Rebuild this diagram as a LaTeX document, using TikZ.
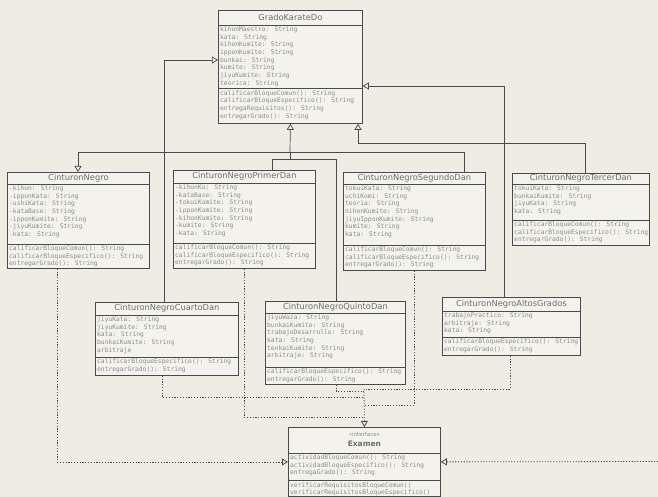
\documentclass[tikz,border=0pt]{standalone}
\usepackage{fontspec}
\setmainfont{DejaVu Sans}
\newfontfamily\listfont{DejaVu Sans Mono}
\usetikzlibrary{arrows.meta}
\definecolor{paper}{HTML}{EEECE3}
\definecolor{boxbg}{HTML}{F3F2EC}
\definecolor{ink}{HTML}{4A4A48}
\definecolor{txt}{HTML}{8C8C88}
\definecolor{ttl}{HTML}{6E6E6A}
\tikzset{
  cbox/.style={draw=ink, line width=0.8pt, fill=boxbg, inner sep=0pt, anchor=north west},
  csep/.style={draw=ink, line width=0.7pt},
  ctitle/.style={font=\fontsize{8.3}{9}\selectfont, text=ttl, inner sep=0pt},
  clist/.style={font=\listfont\fontsize{6.3}{7.7}\selectfont, text=txt, align=left, inner sep=0pt, anchor=north west},
  inh/.style={draw=ink, line width=0.7pt, -{Triangle[open,length=6pt,width=7pt]}},
  conn/.style={draw=ink, line width=0.7pt},
  real/.style={draw=ink, line width=0.8pt, dash pattern=on 1.2pt off 1.6pt, -{Triangle[open,length=6pt,width=7pt]}},
  realline/.style={draw=ink, line width=0.8pt, dash pattern=on 1.2pt off 1.6pt},
}
% #1 name, #2 x, #3 y, #4 w, #5 h, #6 header height, #7 attr sep offset, #8 title
\newcommand\umlclass[8]{%
  \node[cbox, minimum width=#4pt, minimum height=#5pt] (#1) at (#2,#3) {};
  \draw[csep] ([yshift=-#6pt]#1.north west) -- ([yshift=-#6pt]#1.north east);
  \draw[csep] ([yshift=-#7pt]#1.north west) -- ([yshift=-#7pt]#1.north east);
  \node[ctitle] (#1-t) at ([yshift=-0.5*#6pt]#1.north) {#8};
}
% #1 name, #2 suffix, #3 y offset, #4 text
\newcommand\umltext[4]{\node[clist] (#1-#2) at ([xshift=2pt,yshift=-#3pt]#1.north west) {#4};}
\begin{document}
\begin{tikzpicture}[x=1pt,y=-1pt]
\useasboundingbox (0,0) rectangle (658,497);
\fill[paper] (0,0) rectangle (658,497);

% GradoKarateDo
\umlclass{grado}{218}{10}{144}{113}{15}{78}{GradoKarateDo}
\umltext{grado}{a}{16.5}{kihonMaestro: String\\kata: String\\kihonKumite: String\\ipponKumite: String\\bunkai: String\\kumite: String\\jiyuKumite: String\\teorica: String}
\umltext{grado}{m}{80}{calificarBloqueComun(): String\\calificarBloqueEspecifico(): String\\entregaRequisitos(): String\\entregarGrado(): String}

% CinturonNegro
\umlclass{cn}{7}{172}{142}{96}{12}{72}{CinturonNegro}
\umltext{cn}{a}{13.5}{-kihon: String\\-ipponKata: String\\-ushiKata: String\\-kataBase: String\\-ipponKumite: String\\-jiyuKumite: String\\-kata: String}
\umltext{cn}{m}{73.5}{calificarBloqueComun(): String\\calificarBloqueEspecifico(): String\\entregarGrado(): String}

% CinturonNegroPrimerDan
\umlclass{pri}{173}{170}{142}{98}{13}{73}{CinturonNegroPrimerDan}
\umltext{pri}{a}{14.5}{-kihonKu: String\\-kataBase: String\\-tokuiKumite: String\\-ipponKumite: String\\-kihonKumite: String\\-kumite: String\\-kata: String}
\umltext{pri}{m}{74.5}{calificarBloqueComun(): String\\calificarBloqueEspecifico(): String\\entregarGrado(): String}

% CinturonNegroSegundoDan
\umlclass{seg}{343}{172}{142}{98}{12}{73}{CinturonNegroSegundoDan}
\umltext{seg}{a}{13.5}{tokuiKata: String\\uchiKomi: String\\teoria: String\\nihonKumite: String\\jiyuIpponKumite: String\\kumite: String\\kata: String}
\umltext{seg}{m}{74.5}{calificarBloqueComun(): String\\calificarBloqueEspecifico(): String\\entregarGrado(): String}

% CinturonNegroTercerDan
\umlclass{ter}{512}{173}{137}{72}{11}{47}{CinturonNegroTercerDan}
\umltext{ter}{a}{12.5}{tokuiKata: String\\bunkaiKumite: String\\jiyuKata: String\\kata: String}
\umltext{ter}{m}{48.5}{calificarBloqueComun(): String\\calificarBloqueEspecifico(): String\\entregarGrado(): String}

% CinturonNegroCuartoDan
\umlclass{cua}{95}{302}{143}{73}{13}{55}{CinturonNegroCuartoDan}
\umltext{cua}{a}{14.5}{jiyuKata: String\\jiyuKumite: String\\kata: String\\bunkaiKumite: String\\arbitraje}
\umltext{cua}{m}{56.5}{calificarBloqueEspecifico(): String\\entregarGrado(): String}

% CinturonNegroQuintoDan
\umlclass{qui}{265}{301}{140}{83}{12}{66}{CinturonNegroQuintoDan}
\umltext{qui}{a}{13.5}{jiyuWaza: String\\bunkaiKumite: String\\trabajoDesarrollo: String\\kata: String\\tenkaiKumite: String\\arbitraje: String}
\umltext{qui}{m}{67.5}{calificarBloqueEspecifico(): String\\entregarGrado(): String}

% CinturonNegroAltosGrados
\umlclass{alt}{442}{297}{138}{58}{14}{40}{CinturonNegroAltosGrados}
\umltext{alt}{a}{15.5}{trabajoPractico: String\\arbitraje: String\\kata: String}
\umltext{alt}{m}{41.5}{calificarBloqueEspecifico(): String\\entregarGrado(): String}

% Examen
\umlclass{exa}{288}{427}{152}{69}{26}{53}{}
\node[font=\fontsize{5.5}{6}\selectfont, text=txt, inner sep=0pt] (exa-s) at ([yshift=-7pt]exa.north) {«interface»};
\node[font=\bfseries\fontsize{7.5}{8}\selectfont, text=ttl, inner sep=0pt] (exa-n) at ([yshift=-17pt]exa.north) {Examen};
\umltext{exa}{a}{27.5}{actividadBloqueComun(): String\\actividadBloqueEspecifico(): String\\entregaGrado(): String}
\node[clist, font=\listfont\fontsize{6.3}{7}\selectfont] (exa-m) at ([xshift=2pt,yshift=-55pt]exa.north west) {verificarRequisitosBloqueComun()\\verificarRequisitosBloqueEspecifico()};

% inheritance connectors
\coordinate (j1) at (290,152);
\coordinate (j2) at (290,159);
\coordinate (j3) at (358,143);
\draw[inh] (j1) -- (grado.south);
\draw[inh] (j1) -| ([xshift=71pt]cn.north west);
\draw[conn] (j1) -| ([xshift=121pt]seg.north west);
\draw[conn] (j1) -- (j2);
\draw[conn] (j2) -| ([xshift=99pt]pri.north west);
\draw[conn] (j2) -| ([xshift=71pt]qui.north west);
\draw[inh] ([xshift=73pt]ter.north west) |- (j3) -- (grado.south -| j3);
\draw[inh] ([xshift=69pt]cua.north west) |- ([yshift=-50pt]grado.north west);
\draw[inh] ([xshift=62pt]alt.north west) |- ([yshift=-76pt]grado.north east);

% realization connectors
\coordinate (h0) at (364,389);
\coordinate (h1) at (364,391);
\coordinate (h2) at (364,397);
\coordinate (h3) at (364,405);
\coordinate (h4) at (364,417);
\coordinate (rt) at (658,461.5);
\draw[real] (h0) -- (exa.north);
\draw[realline] ([xshift=68pt]alt.south west) |- (h0);
\draw[realline] ([xshift=71pt]qui.south west) |- (h1);
\draw[realline] ([xshift=67pt]cua.south west) |- (h2);
\draw[realline] ([xshift=71pt]seg.south west) |- (h3);
\draw[realline] ([xshift=71pt]pri.south west) |- (h4);
\draw[real] ([xshift=50pt]cn.south west) |- (exa.west);
\draw[real] (rt) -- (exa.east);
\end{tikzpicture}
\end{document}
